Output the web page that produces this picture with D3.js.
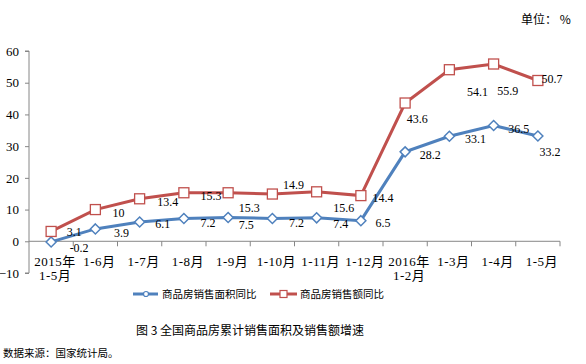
<!DOCTYPE html>
<html>
<head>
<meta charset="utf-8">
<script src="https://cdn.jsdelivr.net/npm/d3@7"></script>
<style>
body { margin: 0; background: #fff; }
svg { display: block; }
</style>
</head>
<body>
<div id="chart"></div>
<script>
// DATA
var categories = ["2015年\n1-5月", "1-6月", "1-7月", "1-8月", "1-9月", "1-10月", "1-11月", "1-12月", "2016年\n1-2月", "1-3月", "1-4月", "1-5月"];
var areaValues = [-0.2, 3.9, 6.1, 7.2, 7.5, 7.2, 7.4, 6.5, 28.2, 33.1, 36.5, 33.2];
var salesValues = [3.1, 10, 13.4, 15.3, 15.3, 14.9, 15.6, 14.4, 43.6, 54.1, 55.9, 50.7];
var yTicks = [-10, 0, 10, 20, 30, 40, 50, 60];
var seriesNames = ["商品房销售面积同比", "商品房销售额同比"];

// label nudges (px) - excel put some of them in odd places
var areaShift = [[28, 6], [26, 4], [23, 2], [24, 4], [18, 7], [24, 4], [24, 6], [22, 2], [25, 3], [26, 2], [25, 3], [12, 16]];
var salesShift = [[23, 0], [23, 3], [28, 3], [27, 3], [21, 15], [21, -9], [27, 16], [22, 2], [12, 16], [28, 22], [14, 27], [14, -2]];

var blue = "#4F81BD";
var red = "#C0504D";
var axisColor = "#868686";
var numFont = "'Liberation Serif', 'Noto Sans CJK SC', serif";
var cjkFont = "'Noto Sans CJK SC', sans-serif";

var svg = d3.select("#chart").append("svg")
    .attr("width", 586)
    .attr("height", 364);

var x = d3.scaleBand().domain(categories).range([29, 560]);
var y = d3.scaleLinear().domain([-10, 60]).range([273, 51]);
var cx = function (c) { return x(c) + x.bandwidth() / 2; };

// unit text
svg.append("text")
    .attr("x", 521).attr("y", 24)
    .style("font-family", cjkFont)
    .style("font-size", "12px")
    .text("单位：  %");

// Y AXIS
var yAxis = svg.append("g").attr("transform", "translate(29,0)")
    .call(d3.axisLeft(y).tickValues(yTicks).tickSize(4).tickFormat(d3.format("d")));
yAxis.select(".domain").attr("stroke", axisColor).attr("d", "M-4," + y(60) + "H0V" + y(-10) + "H-4");
yAxis.selectAll(".tick line").attr("stroke", axisColor);
yAxis.selectAll(".tick text")
    .attr("x", -10)
    .style("font-family", numFont)
    .style("font-size", "13px")
    .attr("fill", "#000");

// X AXIS (at zero)
var xAxisG = svg.append("g").attr("transform", "translate(0," + y(0) + ")");
xAxisG.append("line")
    .attr("x1", 29).attr("x2", 560)
    .attr("stroke", axisColor);
xAxisG.selectAll(".xt")
    .data(categories)
    .enter().append("line")
    .attr("x1", function (d) { return x(d) + x.bandwidth(); })
    .attr("x2", function (d) { return x(d) + x.bandwidth(); })
    .attr("y1", 0).attr("y2", 5)
    .attr("stroke", axisColor);

var xLabels = svg.append("g").selectAll("text")
    .data(categories)
    .enter().append("text")
    .attr("text-anchor", "middle")
    .style("font-family", numFont)
    .style("font-size", "13px")
    .style("letter-spacing", "0.5px")
    .attr("fill", "#000");
xLabels.each(function (d) {
    var lines = d.split("\n");
    var t = d3.select(this);
    lines.forEach(function (l, i) {
        t.append("tspan")
            .attr("x", cx(d) + 4)
            .attr("y", 266 + i * 14)
            .text(l);
    });
});

// LINES
var line = function (vals) {
    return d3.line()
        .x(function (d, i) { return cx(categories[i]); })
        .y(function (d) { return y(d); })(vals);
};

svg.append("path")
    .attr("d", line(areaValues))
    .attr("fill", "none")
    .attr("stroke", blue)
    .attr("stroke-width", 3);

svg.append("path")
    .attr("d", line(salesValues))
    .attr("fill", "none")
    .attr("stroke", red)
    .attr("stroke-width", 3);

// markers
svg.append("g").selectAll("path")
    .data(areaValues)
    .enter().append("path")
    .attr("d", function (d, i) {
        var px = cx(categories[i]), py = y(d), r = 5;
        return "M" + px + "," + (py - r) + "L" + (px + r) + "," + py + "L" + px + "," + (py + r) + "L" + (px - r) + "," + py + "Z";
    })
    .attr("fill", "#fff")
    .attr("stroke", blue)
    .attr("stroke-width", 1.5);

svg.append("g").selectAll("rect")
    .data(salesValues)
    .enter().append("rect")
    .attr("x", function (d, i) { return cx(categories[i]) - 5; })
    .attr("y", function (d) { return y(d) - 5; })
    .attr("width", 10).attr("height", 10)
    .attr("fill", "#fff")
    .attr("stroke", red)
    .attr("stroke-width", 1.3);

// DATA LABELS
function drawLabels(vals, shift) {
    svg.append("g").selectAll("text")
        .data(vals)
        .enter().append("text")
        .attr("x", function (d, i) { return cx(categories[i]) + shift[i][0]; })
        .attr("y", function (d, i) { return y(d) + shift[i][1]; })
        .attr("text-anchor", "middle")
        .attr("dy", "0.35em")
        .style("font-family", numFont)
        .style("font-size", "12px")
        .attr("fill", "#000")
        .text(function (d) { return d; });
}
drawLabels(areaValues, areaShift);
drawLabels(salesValues, salesShift);

// LEGEND
var legend = svg.append("g").attr("transform", "translate(0,294)");
legend.append("line").attr("x1", 133).attr("x2", 158).attr("stroke", blue).attr("stroke-width", 3);
legend.append("circle").attr("cx", 146).attr("cy", 0).attr("r", 2.5)
    .attr("fill", "#fff").attr("stroke", blue).attr("stroke-width", 1.2);
legend.append("text").attr("x", 162).attr("y", 4)
    .style("font-family", cjkFont).style("font-size", "10.5px")
    .text(seriesNames[0]);
legend.append("line").attr("x1", 270).attr("x2", 297).attr("stroke", red).attr("stroke-width", 3);
legend.append("rect").attr("x", 280).attr("y", -3.5).attr("width", 7).attr("height", 7)
    .attr("fill", "#fff").attr("stroke", red).attr("stroke-width", 1.2);
legend.append("text").attr("x", 300).attr("y", 4)
    .style("font-family", cjkFont).style("font-size", "10.5px")
    .text(seriesNames[1]);

// CAPTION
svg.append("text")
    .attr("x", 250).attr("y", 335)
    .attr("text-anchor", "middle")
    .style("font-family", cjkFont)
    .style("font-size", "12px")
    .text("图 3 全国商品房累计销售面积及销售额增速");

svg.append("text")
    .attr("x", 3).attr("y", 357)
    .style("font-family", cjkFont)
    .style("font-size", "10.5px")
    .text("数据来源：国家统计局。");
</script>
</body>
</html>
